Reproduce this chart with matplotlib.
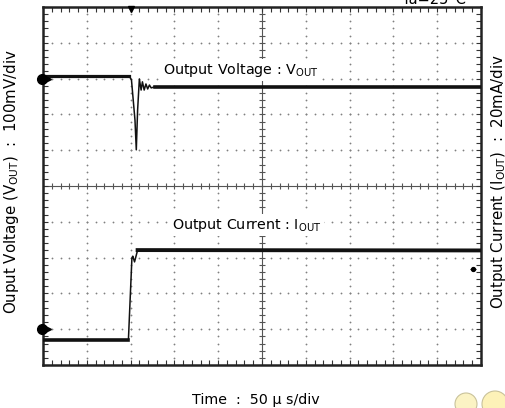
import numpy as np
import matplotlib.pyplot as plt
from matplotlib.patches import Circle

plt.rcParams['mathtext.fontset'] = 'dejavusans'
FAM = ['DejaVu Sans']

# Screen is 10 x 10 divisions; values below are in divisions
n_div_x = 10
n_div_y = 10

# Channel 1: output voltage (100 mV/div)
vout_t = [0.0, 1.97, 2.02, 2.10, 2.13, 2.16, 2.20, 2.24, 2.27, 2.31, 2.35, 2.39, 2.43, 2.47, 2.55, 10.0]
vout_v = [8.07, 8.07, 7.96, 6.84, 6.01, 7.12, 7.99, 7.68, 7.91, 7.68, 7.85, 7.71, 7.82, 7.74, 7.77, 7.77]

# Channel 2: output current (20 mA/div)
iout_t = [0.0, 1.95, 2.03, 2.05, 2.09, 2.16, 10.0]
iout_v = [0.70, 0.70, 2.99, 3.04, 2.88, 3.21, 3.20]

vout_ref = 8.0      # channel 1 ground level marker
iout_ref = 1.0      # channel 2 ground level marker
trigger_t = 2.02    # trigger position

fig = plt.figure(figsize=(5.05, 4.08), dpi=100)
fig.patch.set_facecolor('white')
ax = fig.add_axes([43 / 505, 43 / 408, 438 / 505, 358 / 408])
ax.set_xlim(0, n_div_x)
ax.set_ylim(0, n_div_y)

# Dotted graticule (dots every 1/5 division), solid centre cross
sub = 5
xs_fine = np.arange(0, n_div_x * sub + 1) / sub
ys_fine = np.arange(0, n_div_y * sub + 1) / sub
dot = dict(ls='none', marker='o', ms=1.3, color='#808080', mew=0, zorder=1)
for k in range(1, n_div_x):
    if k != n_div_x // 2:
        ax.plot(np.full_like(ys_fine, k), ys_fine, **dot)
for k in range(1, n_div_y):
    if k != n_div_y // 2:
        ax.plot(xs_fine, np.full_like(xs_fine, k), **dot)

cx, cy = n_div_x / 2, n_div_y / 2
ax.axhline(cy, color='#555555', lw=0.8, zorder=1)
ax.axvline(cx, color='#555555', lw=0.8, zorder=1)
ax.plot(xs_fine, np.full_like(xs_fine, cy), ls='none', marker='|', ms=4.5, mew=0.8, color='#555555', zorder=1)
ax.plot(np.full_like(ys_fine, cx), ys_fine, ls='none', marker='_', ms=4.5, mew=0.8, color='#555555', zorder=1)

# Frame ticks
ax.set_xticks(np.arange(0, n_div_x + 1))
ax.set_yticks(np.arange(0, n_div_y + 1))
ax.set_xticks(xs_fine, minor=True)
ax.set_yticks(ys_fine, minor=True)
ax.tick_params(which='both', direction='in', top=True, right=True, length=3.5,
               width=0.8, color='#333333', labelbottom=False, labelleft=False)
for s in ax.spines.values():
    s.set_linewidth(1.8)
    s.set_color('#222222')

# Traces
ax.plot(vout_t, vout_v, color='#111111', lw=1.1, zorder=3)
ax.plot(vout_t[:2], vout_v[:2], color='#111111', lw=2.3, zorder=3)
ax.plot(vout_t[-2:], vout_v[-2:], color='#111111', lw=2.6, zorder=3)
ax.plot(iout_t, iout_v, color='#111111', lw=1.1, zorder=3)
ax.plot(iout_t[:2], iout_v[:2], color='#111111', lw=2.6, zorder=3)
ax.plot(iout_t[-2:], iout_v[-2:], color='#111111', lw=2.8, zorder=3)

# Ground markers and trigger marker
for ref in (vout_ref, iout_ref):
    ax.plot([-0.03], [ref], marker='o', ms=7, color='black', clip_on=False, zorder=5)
    ax.plot([0.08], [ref], marker='>', ms=6, color='black', clip_on=False, zorder=5)
ax.plot([trigger_t], [n_div_y - 0.05], marker='v', ms=4.5, color='black', clip_on=False, zorder=5)
ax.plot([9.82], [2.68], marker='o', ms=2.8, color='black', zorder=5)
ax.plot([9.82], [2.68], marker='_', ms=5, mew=0.8, color='black', zorder=5)

# Trace labels
box = dict(facecolor='white', edgecolor='none', pad=1.5)
ax.text(2.74, 8.24, 'Output Voltage : V$_{\\mathrm{OUT}}$', fontsize=10.3, family=FAM,
        va='center', ha='left', bbox=box, zorder=4)
ax.text(2.95, 3.91, 'Output Current : I$_{\\mathrm{OUT}}$', fontsize=10.3, family=FAM,
        va='center', ha='left', bbox=box, zorder=4)

# Axis captions
fig.text(12 / 505, 1 - 182 / 408, 'Ouput Voltage (V$_{\\mathrm{OUT}}$)  :  100mV/div',
         rotation=90, ha='center', va='center', fontsize=10.8, family=FAM)
fig.text(499 / 505, 1 - 182 / 408, 'Output Current (I$_{\\mathrm{OUT}}$)  :  20mA/div',
         rotation=90, ha='center', va='center', fontsize=10.8, family=FAM)
fig.text(256 / 505, 1 - 400 / 408, 'Time  :  50 μ s/div', ha='center', va='center',
         fontsize=10.3, family=FAM)
fig.text(466 / 505, 1 - 7 / 408, 'Ta=25°C', ha='right', va='bottom', fontsize=10.5, family=FAM)

# Decorative circles in the lower right corner
deco = fig.add_axes([0, 0, 1, 1], zorder=-1)
deco.set_xlim(0, 505)
deco.set_ylim(408, 0)
deco.axis('off')
deco.add_patch(Circle((466, 404), 11, facecolor='#fbf3c4', edgecolor='#c9c29a', lw=0.8))
deco.add_patch(Circle((495, 404), 13, facecolor='#fdf2b8', edgecolor='#c9c29a', lw=0.8))

fig.savefig('out.png', dpi=100)
